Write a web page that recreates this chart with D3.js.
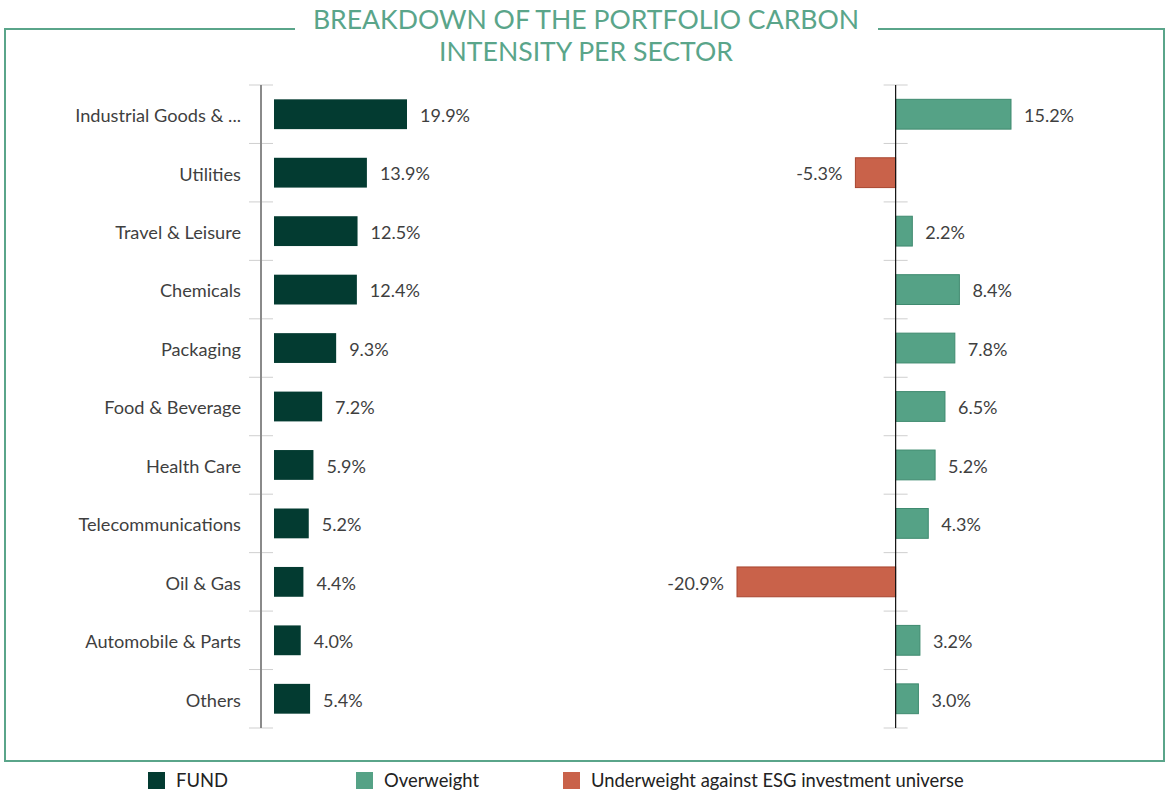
<!DOCTYPE html>
<html>
<head>
<meta charset="utf-8">
<script src="https://cdn.jsdelivr.net/npm/d3@7"></script>
<style>
  html, body { margin: 0; padding: 0; background: #fff; }
  svg { display: block; font-family: Lato, "Open Sans", sans-serif; }
</style>
</head>
<body>
<svg id="chart" width="1174" height="792"></svg>
<script>
// Sectors, fund weights and over/underweight vs the ESG universe (percent)
const sectors = ["Industrial Goods & ...", "Utilities", "Travel & Leisure", "Chemicals", "Packaging",
  "Food & Beverage", "Health Care", "Telecommunications", "Oil & Gas", "Automobile & Parts", "Others"];
const fundValues = [19.9, 13.9, 12.5, 12.4, 9.3, 7.2, 5.9, 5.2, 4.4, 4.0, 5.4];
const relativeValues = [15.2, -5.3, 2.2, 8.4, 7.8, 6.5, 5.2, 4.3, -20.9, 3.2, 3.0];
const titleLines = ["BREAKDOWN OF THE PORTFOLIO CARBON", "INTENSITY PER SECTOR"];
const legendLabels = ["FUND", "Overweight", "Underweight against ESG investment universe"];

const C = {
  frame: "#5aa58a",
  fund: "#033b31",
  over: "#55a286",
  overStroke: "#3f8a6f",
  under: "#c9624a",
  underStroke: "#a8452f",
  text: "#3f3f3f",
  tick: "#cfcfcf"
};

const svg = d3.select("#chart");

// Frame with a gap for the title
const fx0 = 5, fx1 = 1164, fy0 = 29, fy1 = 761;
svg.append("path")
  .attr("d", `M295,${fy0} H${fx0} V${fy1} H${fx1} V${fy0} H878`)
  .attr("fill", "none").attr("stroke", C.frame).attr("stroke-width", 2);

svg.append("text")
  .attr("x", 586).attr("y", 29)
  .attr("text-anchor", "middle")
  .attr("font-size", 26.6).attr("fill", C.frame)
  .selectAll("tspan").data(titleLines).join("tspan")
  .attr("x", 586).attr("dy", (d, i) => i ? 32 : 0)
  .text(d => d);

// Shared vertical band scale
const y = d3.scaleBand().domain(sectors).range([85, 728]).paddingInner(0.49).paddingOuter(0.245);
const step = y.step();
const bh = y.bandwidth();
const cy = s => y(s) + bh / 2 + 1.5;
const boundaries = d3.range(sectors.length + 1).map(i => 85 + i * step);

// Left panel: fund breakdown
const xL = d3.scaleLinear().domain([0, 19.9]).range([274, 407]);
const axisL = 261;
const left = svg.append("g");
left.selectAll("line.tk").data(boundaries).join("line")
  .attr("x1", axisL - 12).attr("x2", axisL + 12)
  .attr("y1", d => d).attr("y2", d => d)
  .attr("stroke", C.tick).attr("stroke-width", 1);
left.append("line")
  .attr("x1", axisL).attr("x2", axisL).attr("y1", 85).attr("y2", 728)
  .attr("stroke", "#8a8a8a").attr("stroke-width", 2);
left.selectAll("text.cat").data(sectors).join("text")
  .attr("x", 241).attr("y", d => cy(d)).attr("dy", "0.35em")
  .attr("text-anchor", "end").attr("font-size", 18.2).attr("fill", C.text)
  .text(d => d);
left.selectAll("rect").data(fundValues).join("rect")
  .attr("x", xL(0)).attr("y", (d, i) => y(sectors[i]))
  .attr("width", d => xL(d) - xL(0)).attr("height", bh)
  .attr("fill", C.fund);
left.selectAll("text.val").data(fundValues).join("text")
  .attr("x", d => xL(d) + 13).attr("y", (d, i) => cy(sectors[i])).attr("dy", "0.35em")
  .attr("font-size", 18).attr("fill", C.text)
  .text(d => d.toFixed(1) + "%");

// Right panel: relative weight vs ESG universe
const xR = d3.scaleLinear().domain([-20.9, 15.2]).range([737, 1011]);
const axisR = xR(0);
const right = svg.append("g");
right.selectAll("line.tk").data(boundaries).join("line")
  .attr("x1", axisR - 12).attr("x2", axisR + 12)
  .attr("y1", d => d).attr("y2", d => d)
  .attr("stroke", C.tick).attr("stroke-width", 1);
right.selectAll("rect").data(relativeValues).join("rect")
  .attr("x", d => Math.min(xR(d), axisR)).attr("y", (d, i) => y(sectors[i]))
  .attr("width", d => Math.abs(xR(d) - axisR)).attr("height", bh)
  .attr("fill", d => d < 0 ? C.under : C.over)
  .attr("stroke", d => d < 0 ? C.underStroke : C.overStroke)
  .attr("stroke-width", 1);
right.append("line")
  .attr("x1", axisR).attr("x2", axisR).attr("y1", 85).attr("y2", 728)
  .attr("stroke", "#111").attr("stroke-width", 1.2);
right.selectAll("text.val").data(relativeValues).join("text")
  .attr("x", d => d < 0 ? xR(d) - 13 : xR(d) + 13)
  .attr("y", (d, i) => cy(sectors[i])).attr("dy", "0.35em")
  .attr("text-anchor", d => d < 0 ? "end" : "start")
  .attr("font-size", 18).attr("fill", C.text)
  .text(d => d.toFixed(1) + "%");

// Legend
const legendX = [148, 356, 563];
const legendColors = [C.fund, C.over, C.under];
const lg = svg.append("g").selectAll("g").data(legendLabels).join("g")
  .attr("transform", (d, i) => `translate(${legendX[i]},772)`);
lg.append("rect").attr("width", 17).attr("height", 17).attr("fill", (d, i) => legendColors[i]);
lg.append("text").attr("x", 28).attr("y", 9).attr("dy", "0.35em")
  .attr("font-size", 18.4).attr("fill", "#222").text(d => d);
</script>
</body>
</html>
